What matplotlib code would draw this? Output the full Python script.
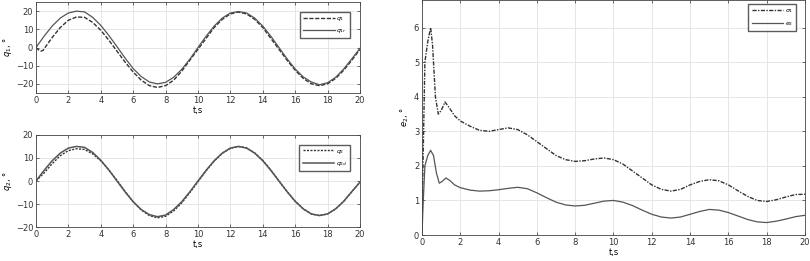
import numpy as np
import matplotlib
matplotlib.use("Agg")
import matplotlib.pyplot as plt

# --- data ---
t_ref = np.arange(0, 20.01, 0.5)

# q1 reference (solid) and actual (dashed)
q1r = [0, 6.2, 11.8, 16.2, 19.0, 20.0, 19.6, 16.6, 12.2, 6.6, 0.5, -5.8, -11.6, -16.0, -19.0, -20.0,
       -19.2, -16.4, -12.0, -6.4, 0, 6.2, 11.8, 16.2, 19.0, 19.8, 19.0, 16.2, 11.8, 6.2, 0, -6.2,
       -11.8, -16.2, -19.0, -20.5, -19.4, -16.4, -11.8, -6.2, -0.5]
t_q1 = [0, 0.15, 0.3, 0.45, 0.6, 0.8, 1.0, 1.5, 2.0, 2.5, 3.0, 3.5, 4.0, 4.5, 5.0, 5.5, 6.0, 6.5, 7.0,
        7.5, 8.0, 8.5, 9.0, 9.5, 10.0, 10.5, 11.0, 11.5, 12.0, 12.5, 13.0, 13.5, 14.0, 14.5, 15.0,
        15.5, 16.0, 16.5, 17.0, 17.5, 18.0, 18.5, 19.0, 19.5, 20.0]
q1 = [0, -1.2, -2.0, -1.5, 0.5, 3.0, 5.5, 11.0, 15.0, 16.8, 16.6, 13.8, 9.5, 4.0, -2.0, -8.0, -13.5,
      -18.0, -21.0, -22.0, -21.0, -18.0, -13.0, -7.0, -1.0, 5.0, 11.0, 15.5, 18.5, 19.5, 18.5, 15.5,
      11.0, 5.0, -1.0, -7.0, -12.5, -17.0, -20.0, -21.0, -20.0, -17.0, -12.5, -7.0, -1.0]

# q2 desired (solid) and actual (dotted)
q2d = [0, 4.6, 8.8, 12.1, 14.3, 15.0, 14.6, 12.4, 9.0, 4.8, 0, -4.7, -9.0, -12.4, -14.6, -15.5,
       -14.8, -12.4, -9.0, -4.7, 0, 4.6, 8.8, 12.1, 14.3, 15.0, 14.3, 12.1, 8.8, 4.6, 0, -4.6, -8.8,
       -12.1, -14.3, -15.0, -14.3, -12.1, -8.8, -4.6, -0.5]
q2 = [0, 3.5, 7.5, 11.0, 13.2, 14.0, 13.7, 11.8, 8.8, 4.8, 0.3, -4.5, -9.0, -12.6, -15.0, -16.0,
      -15.3, -13.0, -9.5, -5.0, -0.3, 4.4, 8.6, 12.0, 14.2, 15.0, 14.4, 12.2, 9.0, 4.8, 0, -4.6,
      -8.8, -12.1, -14.3, -15.0, -14.3, -12.1, -8.8, -4.6, -0.5]

# right panel errors
t_s1 = [0, 0.05, 0.15, 0.3, 0.45, 0.55, 0.7, 0.85, 1.0, 1.2, 1.4, 1.7, 2.0, 2.5, 3.0, 3.5, 4.0, 4.5,
        5.0, 5.5, 6.0, 6.5, 7.0, 7.5, 8.0, 8.5, 9.0, 9.5, 10.0, 10.5, 11.0, 11.5, 12.0, 12.5, 13.0,
        13.5, 14.0, 14.5, 15.0, 15.5, 16.0, 16.5, 17.0, 17.5, 18.0, 18.5, 19.0, 19.5, 20.0]
sigma1 = [0, 2.0, 5.0, 5.6, 6.0, 5.5, 4.0, 3.5, 3.6, 3.85, 3.7, 3.45, 3.3, 3.15, 3.03, 3.0, 3.05,
          3.1, 3.05, 2.9, 2.7, 2.5, 2.3, 2.18, 2.13, 2.15, 2.2, 2.23, 2.18, 2.05, 1.85, 1.65, 1.45,
          1.32, 1.27, 1.32, 1.45, 1.55, 1.6, 1.57, 1.45, 1.28, 1.12, 1.0, 0.97, 1.02, 1.1, 1.17, 1.18]
t_s2 = [0, 0.05, 0.15, 0.3, 0.45, 0.6, 0.75, 0.9, 1.05, 1.25, 1.45, 1.7, 2.0, 2.5, 3.0, 3.5, 4.0,
        4.5, 5.0, 5.5, 6.0, 6.5, 7.0, 7.5, 8.0, 8.5, 9.0, 9.5, 10.0, 10.5, 11.0, 11.5, 12.0, 12.5,
        13.0, 13.5, 14.0, 14.5, 15.0, 15.5, 16.0, 16.5, 17.0, 17.5, 18.0, 18.5, 19.0, 19.5, 20.0]
sigma2 = [0, 0.8, 2.0, 2.3, 2.45, 2.3, 1.8, 1.5, 1.55, 1.65, 1.58, 1.45, 1.37, 1.3, 1.27, 1.28,
          1.31, 1.35, 1.38, 1.34, 1.22, 1.08, 0.95, 0.87, 0.84, 0.86, 0.92, 0.98, 1.0, 0.95, 0.85,
          0.72, 0.6, 0.52, 0.49, 0.52, 0.6, 0.68, 0.74, 0.72, 0.65, 0.55, 0.45, 0.38, 0.36, 0.4,
          0.46, 0.53, 0.57]

xticks = np.arange(0, 21, 2)

plt.rcParams['font.family'] = ['DejaVu Sans']
plt.rcParams['font.size'] = 6

fig = plt.figure(figsize=(8.10, 2.61), dpi=100)

ax1 = fig.add_axes([0.0444, 0.644, 0.400, 0.348])
ax2 = fig.add_axes([0.0444, 0.130, 0.400, 0.353])
ax3 = fig.add_axes([0.521, 0.0996, 0.4728, 0.9004])


def style(ax):
    ax.grid(True, color='#e2e2e2', linewidth=0.6)
    ax.set_axisbelow(True)
    ax.tick_params(direction='in', top=True, right=True, length=2.5, width=0.5,
                   labelsize=6, colors='#333333', pad=2)
    for s in ax.spines.values():
        s.set_linewidth(0.6)
        s.set_color('#444444')
    ax.set_xlim(0, 20)
    ax.set_xticks(xticks)


def add_legend(ax, anchor):
    ax.legend(loc='upper right', fontsize=4.5, frameon=True, fancybox=False, edgecolor='#333333',
              handlelength=5, borderpad=0.5, labelspacing=0.7, handletextpad=0.3,
              bbox_to_anchor=anchor)


# top-left: q1
ax1.plot(t_q1, q1, color='#333333', lw=1.0, ls=(0, (3, 1.2)), label='$q_1$')
ax1.plot(t_ref, q1r, color='#555555', lw=0.9, label='$q_{1r}$')
style(ax1)
ax1.set_ylim(-25, 25)
ax1.set_yticks([-20, -10, 0, 10, 20])
ax1.set_xlabel('t,s', fontsize=6, labelpad=1)
ax1.set_ylabel('$q_1$, °', fontsize=6, labelpad=1)
add_legend(ax1, (0.98, 0.93))

# bottom-left: q2
ax2.plot(t_ref, q2, color='#333333', lw=1.0, ls=(0, (1.5, 1)), label='$q_2$')
ax2.plot(t_ref, q2d, color='#555555', lw=1.1, label='$q_{2d}$')
style(ax2)
ax2.set_ylim(-20, 20)
ax2.set_yticks([-20, -10, 0, 10, 20])
ax2.set_xlabel('t,s', fontsize=6, labelpad=1)
ax2.set_ylabel('$q_2$, °', fontsize=6, labelpad=1)
add_legend(ax2, (0.98, 0.93))

# right: errors
ax3.plot(t_s1, sigma1, color='#333333', lw=1.0, ls=(0, (3, 1, 1, 1)), label='$\\sigma_1$')
ax3.plot(t_s2, sigma2, color='#555555', lw=0.9, label='$e_2$')
style(ax3)
ax3.set_ylim(0, 6.8)
ax3.set_yticks([0, 1, 2, 3, 4, 5, 6])
ax3.set_xlabel('t,s', fontsize=6, labelpad=1)
ax3.set_ylabel('$e_2$, °', fontsize=6, labelpad=2)
add_legend(ax3, (0.985, 0.995))

fig.savefig('out.png', dpi=100)
